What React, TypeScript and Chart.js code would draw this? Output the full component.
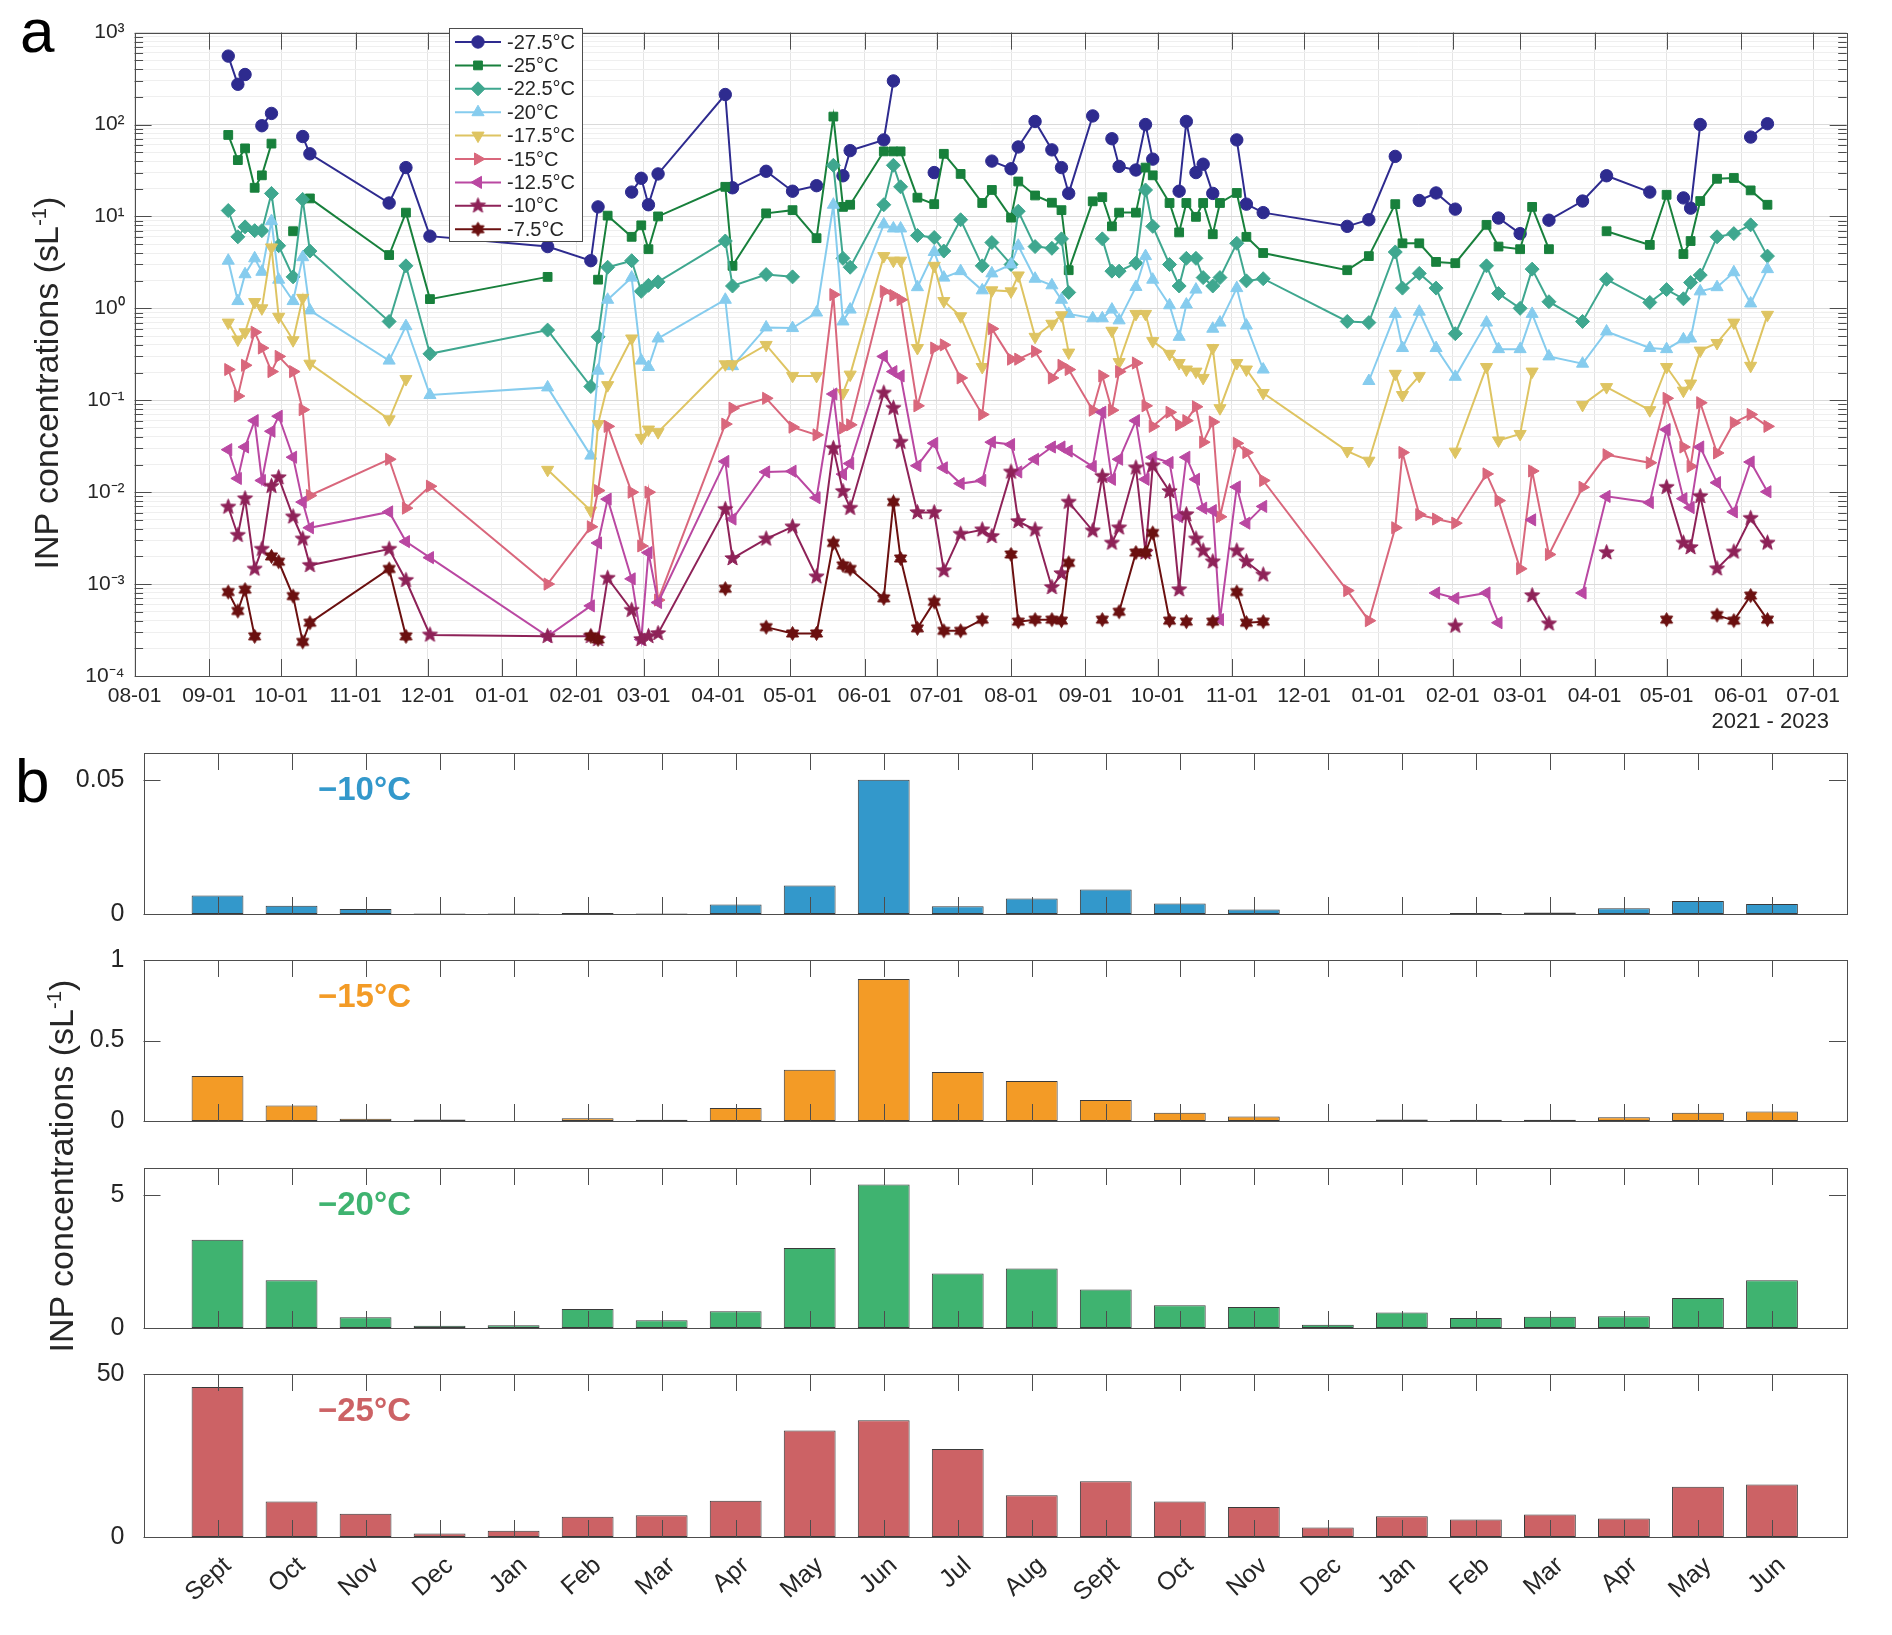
import React, { useEffect, useRef } from "react";
import { Chart, registerables } from "chart.js";
import { drawPoint } from "chart.js/helpers";

Chart.register(...registerables);

const FONT = '"Liberation Sans", Arial, Helvetica, sans-serif';
const INK = "#262626";
const AXIS = "#4d4d4d";
const N = null;

// ---------------- panel a: sampling dates and INP concentrations (sL-1) ----------------
const sampleDates = [
  // 2021
  "2021-09-09", "2021-09-13", "2021-09-16", "2021-09-20", "2021-09-23", "2021-09-27", "2021-09-30",
  "2021-10-06", "2021-10-10", "2021-10-13", "2021-11-15", "2021-11-22", "2021-12-02",
  // 2022 Jan - Mar
  "2022-01-20", "2022-02-07", "2022-02-10", "2022-02-14", "2022-02-24", "2022-02-28", "2022-03-03", "2022-03-07",
  // 2022 Apr - Jul
  "2022-04-04", "2022-04-07", "2022-04-21", "2022-05-02", "2022-05-12", "2022-05-19", "2022-05-23", "2022-05-26",
  "2022-06-09", "2022-06-13", "2022-06-16", "2022-06-23", "2022-06-30", "2022-07-04", "2022-07-11", "2022-07-20", "2022-07-24",
  // 2022 Aug - Dec
  "2022-08-01", "2022-08-04", "2022-08-11", "2022-08-18", "2022-08-22", "2022-08-25",
  "2022-09-04", "2022-09-08", "2022-09-12", "2022-09-15", "2022-09-22", "2022-09-26", "2022-09-29",
  "2022-10-06", "2022-10-10", "2022-10-13", "2022-10-17", "2022-10-20", "2022-10-24", "2022-10-27",
  "2022-11-03", "2022-11-07", "2022-11-14", "2022-12-19", "2022-12-28",
  // 2023
  "2023-01-08", "2023-01-11", "2023-01-18", "2023-01-25", "2023-02-02", "2023-02-15", "2023-02-20",
  "2023-03-01", "2023-03-06", "2023-03-13", "2023-03-27", "2023-04-06", "2023-04-24",
  "2023-05-01", "2023-05-08", "2023-05-11", "2023-05-15", "2023-05-22", "2023-05-29", "2023-06-05", "2023-06-12",
];

const inp275 = [
  555, 274, 350, N, 97, 132, N, N, 74, 48, 14, 34, 6.1,
  4.7, 3.3, 12.7, N, 18.4, 26, 13.4, 29,
  212, 20.5, 31, 18.8, 21.6, N, 27.7, 52, 68, 298, N, N, 30, N, N, N, 40,
  33, 57, 108, 53, 34, 17.8, 124, N, 70, 35, 32, 100, 42, N, 18.8, 108, 30, 37, 17.8, N, 68, 13.6, 11, 7.8, 9.2,
  45, N, 14.9, 18, 12, N, 9.6, 6.5, N, 9.1, 14.7, 27.7, 18.4, N, 15.9, 12.3, 100, N, N, 73, 102,
];
const inp250 = [
  77, 41, 55, 20.5, 28, 62, N, 6.9, N, 15.7, 3.8, 11, 1.26,
  2.2, N, 2.05, 10.2, 6.0, 8.0, 4.4, 10,
  21, 2.9, 10.8, 11.7, 5.8, 122, 12.7, 13.4, 51, 51, 51, 16, 13.6, 48, 29, 14, 19.4,
  9.7, 24, 16.9, 14.1, 11.7, 2.6, 14.6, 16.2, 7.8, 11, 11, 34, 28, 14, 6.7, 14, 9.9, 14, 6.4, 14, 18, 6.0, 4.0, 2.6, 3.7,
  13.6, 5.1, 5.1, 3.2, 3.1, 8.1, 4.7, 4.4, 12.7, 4.4, N, 6.9, 4.9, 17.2, 3.9, 5.4, 14.7, 25.7, 26.2, 19.2, 13.4,
];
const inp225 = [
  11.6, 6.0, 7.7, 7.0, 7.0, 17.8, 4.8, 2.2, 15.3, 4.2, 0.72, 2.9, 0.32,
  0.58, 0.141, 0.49, 2.8, 3.3, 1.53, 1.78, 1.94,
  5.4, 1.75, 2.33, 2.2, N, 36, 3.5, 2.8, 13.4, 36, 21, 6.2, 5.9, 4.2, 9.2, 2.9, 5.2,
  3.0, 11.4, 4.7, 4.5, 5.7, 1.49, N, 5.7, 2.54, 2.54, 3.1, 19.4, 7.8, 3.0, 1.75, 3.5, 3.5, 2.16, 1.75, 2.16, 5.1, 1.99, 2.1, 0.72, 0.7,
  4.1, 1.66, 2.4, 1.66, 0.53, 2.9, 1.45, 1.0, 2.67, 1.18, 0.72, 2.07, 1.16, 1.6, 1.27, 1.91, 2.3, 6.0, 6.5, 8.1, 3.7,
];
const inp200 = [
  3.3, 1.2, 2.35, 3.5, 2.5, 8.9, 2.05, 1.2, 3.6, 0.95, 0.27, 0.64, 0.114,
  0.138, 0.025, 0.21, 1.24, 2.16, 0.27, 0.23, 0.47,
  1.24, 0.235, 0.62, 0.61, 0.9, 13.4, 0.72, 0.97, 8.2, 7.4, 7.4, 1.7, 4.1, 2.16, 2.54, 1.57, 2.4,
  3.0, 4.8, 2.1, 1.78, 1.24, 0.87, 0.78, 0.78, 0.97, 0.74, 1.71, 3.7, 2.05, 1.08, 0.49, 1.1, 1.6, N, 0.6, 0.7, 1.66, 0.65, 0.216, N, 0.162,
  0.87, 0.37, 0.92, 0.37, 0.18, 0.7, 0.36, 0.36, 0.87, 0.3, 0.25, 0.56, 0.37, 0.36, 0.46, 0.47, 1.53, 1.7, 2.47, 1.13, 2.67,
];
const inp175 = [
  0.7, 0.457, 0.55, 1.17, 1.0, 4.6, 0.81, 0.45, 1.3, 0.25, 0.062, 0.17, N,
  0.0175, 0.0063, 0.055, 0.146, 0.47, 0.039, 0.048, 0.045,
  0.246, 0.246, 0.4, 0.184, 0.184, N, 0.12, 0.19, 3.7, 3.3, 3.3, 0.37, 2.9, 1.2, 0.82, 0.23, 1.57,
  1.53, 2.28, 0.49, 0.68, 0.84, 0.33, N, N, 0.57, 0.26, 0.87, 0.87, 0.44, 0.32, 0.254, 0.216, 0.205, 0.175, 0.37, 0.082, 0.254, 0.216, 0.12, 0.028, 0.022,
  0.194, 0.114, 0.184, N, 0.0276, 0.23, 0.0365, 0.043, 0.205, N, 0.089, 0.139, 0.078, 0.23, 0.127, 0.152, 0.347, 0.42, 0.7, 0.237, 0.85,
];
const inp150 = [
  0.216, 0.111, 0.24, 0.55, 0.37, 0.205, 0.3, 0.205, 0.079, 0.0092, 0.0228, 0.0067, 0.0116,
  0.001, 0.0042, 0.0104, 0.052, 0.01, 0.0026, 0.01, 0.00067,
  0.055, 0.082, 0.105, 0.051, 0.042, 1.41, 0.05, 0.054, 1.53, 1.38, 1.24, 0.087, 0.37, 0.4, 0.175, 0.07, 0.6,
  0.28, 0.28, 0.34, 0.175, 0.24, 0.216, 0.078, 0.184, 0.078, 0.205, 0.254, 0.087, 0.052, 0.074, 0.054, 0.06, 0.085, 0.035, 0.058, 0.0054, 0.034, 0.027, 0.0134, 0.00085, 0.0004,
  0.0041, 0.027, 0.0057, 0.0051, 0.0046, 0.0158, 0.0081, 0.00147, 0.017, 0.0021, 0.0113, 0.0255, 0.0209, 0.105, 0.031, 0.0191, 0.094, 0.0267, 0.057, 0.07, 0.052,
];
const inp125 = [
  0.029, 0.0141, 0.031, 0.06, 0.0134, 0.046, 0.067, 0.024, 0.0078, 0.0041, 0.0061, 0.0029, 0.00194,
  0.00027, 0.00058, 0.0028, 0.0084, 0.00114, 0.00025, 0.0022, 0.00063,
  0.0216, 0.0051, 0.0166, 0.0169, 0.0087, 0.117, 0.0157, 0.0205, 0.3, 0.205, 0.184, 0.0194, 0.034, 0.0184, 0.0124, 0.0134, 0.035,
  0.033, 0.0166, 0.0228, 0.031, 0.031, 0.028, 0.019, 0.074, 0.0138, 0.0228, 0.06, 0.0138, 0.024, 0.021, 0.0054, 0.024, 0.0138, 0.0067, 0.0063, 0.00041, 0.0114, 0.0046, 0.007, N, N,
  N, N, N, 0.0008, 0.0007, 0.0008, 0.00038, N, 0.005, N, 0.0008, 0.009, 0.0077, 0.048, 0.0085, 0.0068, 0.031, 0.0127, 0.0061, 0.0213, 0.0101,
];
const inp100 = [
  0.0069, 0.0034, 0.0085, 0.00146, 0.0024, 0.0116, 0.0144, 0.0054, 0.0031, 0.0016, 0.0024, 0.0011, 0.00028,
  0.00027, 0.00027, 0.00025, 0.00116, 0.00052, 0.00025, 0.00027, 0.00029,
  0.0065, 0.0019, 0.0031, 0.0042, 0.0012, 0.03, 0.0102, 0.0067, 0.12, 0.082, 0.035, 0.006, 0.006, 0.0014, 0.0035, 0.0039, 0.0033,
  0.0166, 0.0048, 0.0039, 0.00092, 0.0013, 0.0078, 0.0038, 0.0149, 0.0028, 0.0041, 0.0184, 0.0022, 0.0194, 0.0102, 0.00087, 0.0057, 0.0031, 0.0023, 0.00175, N, 0.0023, 0.00175, 0.00126, N, N,
  N, N, N, N, 0.00035, N, N, N, 0.00075, 0.00037, N, 0.0022, N, 0.0113, 0.0028, 0.0025, 0.009, 0.00147, 0.00224, 0.0052, 0.0028,
];
const inp075 = [
  0.00082, 0.00051, 0.00087, 0.00027, N, 0.002, 0.00175, 0.00074, 0.000235, 0.00038, 0.00146, 0.00027, N,
  N, 0.00027, 0.00025, N, N, N, N, N,
  0.00089, N, 0.00034, 0.00029, 0.00029, 0.0028, 0.0016, 0.00146, 0.0007, 0.0078, 0.0019, 0.00033, 0.00064, 0.00031, 0.00031, 0.00041, N,
  0.0021, 0.00039, 0.00041, 0.00041, 0.0004, 0.0017, N, 0.00041, N, 0.0005, 0.0022, 0.0022, 0.0036, 0.0004, N, 0.00039, N, N, 0.00039, N, 0.00082, 0.00038, 0.00039, N, N,
  N, N, N, N, N, N, N, N, N, N, N, N, N, 0.00041, N, N, N, 0.00046, 0.0004, 0.00075, 0.00041,
];

// month ticks of the time axis
const xTickDates = [
  "2021-08-01", "2021-09-01", "2021-10-01", "2021-11-01", "2021-12-01", "2022-01-01",
  "2022-02-01", "2022-03-01", "2022-04-01", "2022-05-01", "2022-06-01", "2022-07-01",
  "2022-08-01", "2022-09-01", "2022-10-01", "2022-11-01", "2022-12-01", "2023-01-01",
  "2023-02-01", "2023-03-01", "2023-04-01", "2023-05-01", "2023-06-01", "2023-07-01",
];
const xTickLabels = xTickDates.map((d) => d.slice(5));
const axisStart = "2021-08-01";
const axisEnd = "2023-07-15";
const yDecades = [-4, -3, -2, -1, 0, 1, 2, 3];

// ---------------- panel b: monthly means ----------------
const months = [
  "Sept", "Oct", "Nov", "Dec", "Jan", "Feb", "Mar", "Apr", "May", "Jun", "Jul",
  "Aug", "Sept", "Oct", "Nov", "Dec", "Jan", "Feb", "Mar", "Apr", "May", "Jun",
];
const bar10 = [0.0069, 0.0031, 0.0019, 0.0002, 0.0002, 0.0004, 0.0002, 0.0035, 0.0106, 0.05, 0.0029, 0.0058, 0.0091, 0.0039, 0.0017, 0, 0, 0.0004, 0.0006, 0.0021, 0.0048, 0.0037];
const bar15 = [0.28, 0.097, 0.014, 0.01, 0, 0.017, 0.007, 0.08, 0.318, 0.882, 0.304, 0.249, 0.131, 0.052, 0.028, 0, 0.01, 0.007, 0.007, 0.024, 0.052, 0.059];
const bar20 = [3.31, 1.79, 0.4, 0.083, 0.1, 0.71, 0.29, 0.63, 3.0, 5.38, 2.04, 2.23, 1.44, 0.85, 0.79, 0.125, 0.58, 0.375, 0.42, 0.44, 1.125, 1.79];
const bar25 = [46.0, 10.9, 7.1, 1.04, 1.9, 6.2, 6.7, 11.1, 32.7, 35.8, 27.0, 12.8, 17.1, 10.9, 9.2, 2.9, 6.4, 5.4, 6.9, 5.7, 15.4, 16.1];
const ticks10 = [0, 0.05];
const ticks15 = [0, 0.5, 1];
const ticks20 = [0, 5];
const ticks25 = [0, 50];

// ---------------- helpers ----------------
function dayOf(iso: string): number {
  const [y, m, d] = iso.split("-").map(Number);
  return (Date.UTC(y, m - 1, d) - Date.UTC(2021, 7, 1)) / 86400000;
}

const SUP: Record<string, string> = { "-": "\u207B", "0": "\u2070", "1": "\u00B9", "2": "\u00B2", "3": "\u00B3", "4": "\u2074" };
const isDecade = (v: number) => Math.abs(Math.log10(v) - Math.round(Math.log10(v))) < 1e-6;
const decadeLabel = (v: number) =>
  "10" + String(Math.round(Math.log10(v))).split("").map((c) => SUP[c]).join("");

function starCanvas(points: number, inner: number, r: number, color: string) {
  const size = Math.ceil(r * 2 + 3);
  const c = document.createElement("canvas");
  c.width = size;
  c.height = size;
  const g = c.getContext("2d")!;
  g.translate(size / 2, size / 2);
  g.beginPath();
  for (let i = 0; i < points * 2; i++) {
    const rad = i % 2 === 0 ? r : r * inner;
    const a = -Math.PI / 2 + (i * Math.PI) / points;
    g.lineTo(rad * Math.cos(a), rad * Math.sin(a));
  }
  g.closePath();
  g.fillStyle = color;
  g.strokeStyle = color;
  g.lineWidth = 1;
  g.fill();
  g.stroke();
  return c;
}

// box + inward ticks, MATLAB style
const axesFrame = {
  id: "axesFrame",
  afterDraw(chart: any, _args: any, o: any) {
    const { ctx, chartArea: a } = chart;
    const xs = chart.scales.x;
    const ys = chart.scales.y;
    const len = o.tickLength;
    ctx.save();
    ctx.strokeStyle = AXIS;
    ctx.lineWidth = 1;
    ctx.beginPath();
    for (const t of xs.ticks) {
      const px = Math.round(xs.getPixelForValue(t.value)) + 0.5;
      if (px < a.left + 2 || px > a.right - 2) continue;
      ctx.moveTo(px, a.bottom);
      ctx.lineTo(px, a.bottom - len);
      ctx.moveTo(px, a.top);
      ctx.lineTo(px, a.top + len);
    }
    for (const t of ys.ticks) {
      const py = Math.round(ys.getPixelForValue(t.value)) + 0.5;
      const l = o.minorY && !isDecade(t.value) ? len / 2 : len;
      ctx.moveTo(a.left, py);
      ctx.lineTo(a.left + l, py);
      ctx.moveTo(a.right, py);
      ctx.lineTo(a.right - l, py);
    }
    ctx.stroke();
    ctx.strokeRect(Math.round(a.left) + 0.5, Math.round(a.top) + 0.5, Math.round(a.width), Math.round(a.height));
    ctx.restore();
  },
};

// legend box inside panel a
const seriesLegend = {
  id: "seriesLegend",
  afterDraw(chart: any, _args: any, o: any) {
    const { ctx } = chart;
    ctx.save();
    ctx.fillStyle = "#ffffff";
    ctx.fillRect(o.x, o.y, o.w, o.h);
    ctx.strokeStyle = AXIS;
    ctx.lineWidth = 1;
    ctx.strokeRect(o.x + 0.5, o.y + 0.5, o.w, o.h);
    ctx.font = `${o.fontSize}px ${FONT}`;
    ctx.textBaseline = "middle";
    ctx.textAlign = "left";
    chart.data.datasets.forEach((ds: any, i: number) => {
      const cy = o.y + o.first + i * o.row;
      ctx.strokeStyle = ds.borderColor;
      ctx.lineWidth = ds.borderWidth;
      ctx.beginPath();
      ctx.moveTo(o.x + 6, cy);
      ctx.lineTo(o.x + 52, cy);
      ctx.stroke();
      ctx.fillStyle = ds.pointBackgroundColor;
      ctx.strokeStyle = ds.pointBorderColor;
      ctx.lineWidth = 1;
      drawPoint(ctx, { pointStyle: ds.pointStyle, radius: ds.pointRadius, rotation: ds.pointRotation, borderWidth: 1 }, o.x + 29, cy);
      ctx.fillStyle = INK;
      ctx.fillText(ds.label, o.x + 58, cy + 1);
    });
    ctx.restore();
  },
};

// coloured temperature tag inside each bar panel
const panelTag = {
  id: "panelTag",
  afterDraw(chart: any, _args: any, o: any) {
    const { ctx, chartArea: a } = chart;
    ctx.save();
    ctx.font = `bold ${o.size}px ${FONT}`;
    ctx.fillStyle = o.color;
    ctx.textBaseline = "middle";
    ctx.textAlign = "left";
    ctx.fillText(o.text, o.x, a.top + o.dy);
    ctx.restore();
  },
};

const seriesA = [
  { label: "-27.5\u00B0C", values: inp275, color: "#2E2B8F", marker: "circle", radius: 6.2, rotation: 0 },
  { label: "-25\u00B0C", values: inp250, color: "#18803C", marker: "rect", radius: 6.2, rotation: 0 },
  { label: "-22.5\u00B0C", values: inp225, color: "#3FA78F", marker: "rectRot", radius: 7, rotation: 0 },
  { label: "-20\u00B0C", values: inp200, color: "#86CCEE", marker: "triangle", radius: 7, rotation: 0 },
  { label: "-17.5\u00B0C", values: inp175, color: "#DEC462", marker: "triangle", radius: 7, rotation: 180 },
  { label: "-15\u00B0C", values: inp150, color: "#D9677C", marker: "triangle", radius: 7, rotation: 90 },
  { label: "-12.5\u00B0C", values: inp125, color: "#BA48A2", marker: "triangle", radius: 7, rotation: 270 },
  { label: "-10\u00B0C", values: inp100, color: "#8E2258", marker: "star5", radius: 8, rotation: 0 },
  { label: "-7.5\u00B0C", values: inp075, color: "#6B1010", marker: "star6", radius: 7, rotation: 0 },
];

const PA = { h: 740, left: 134.6, right: 1846.7, top: 32.6, bottom: 676 };

function PanelA() {
  const ref = useRef<HTMLCanvasElement | null>(null);

  useEffect(() => {
    if (!ref.current) return;
    const yTicks: number[] = [];
    yDecades.forEach((e) => {
      const top = e === 3 ? 1 : 9;
      for (let m = 1; m <= top; m++) yTicks.push(Number((m * Math.pow(10, e)).toPrecision(3)));
    });

    const datasets = seriesA.map((s, i) => {
      const style =
        s.marker === "star5" ? starCanvas(5, 0.42, s.radius, s.color)
        : s.marker === "star6" ? starCanvas(6, 0.58, s.radius, s.color)
        : s.marker;
      return {
        label: s.label,
        data: sampleDates.map((d, j) => ({ x: dayOf(d), y: s.values[j] })),
        borderColor: s.color,
        backgroundColor: s.color,
        pointBackgroundColor: s.color,
        pointBorderColor: s.color,
        pointBorderWidth: 1,
        pointStyle: style,
        pointRadius: s.radius,
        pointRotation: s.rotation,
        borderWidth: 2,
        tension: 0,
        spanGaps: false,
        order: seriesA.length - i,
      };
    });

    const chart = new Chart(ref.current, {
      type: "line",
      data: { datasets } as any,
      options: {
        responsive: false,
        animation: false,
        events: [],
        layout: { padding: { left: 0, top: PA.top, right: 1892 - PA.right, bottom: 0 } },
        plugins: {
          legend: { display: false },
          tooltip: { enabled: false },
          axesFrame: { tickLength: 17, minorY: true },
          seriesLegend: { x: 449, y: 28, w: 133, h: 213, first: 14, row: 23.4, fontSize: 20 },
        } as any,
        scales: {
          x: {
            type: "linear",
            min: dayOf(axisStart),
            max: dayOf(axisEnd),
            afterBuildTicks: (s: any) => {
              s.ticks = xTickDates.map((d) => ({ value: dayOf(d) }));
            },
            afterFit: (s: any) => {
              s.height = PA.h - PA.bottom;
            },
            ticks: {
              autoSkip: false,
              maxRotation: 0,
              padding: 8,
              color: INK,
              font: { family: FONT, size: 21 },
              callback: (_v: any, i: number) => xTickLabels[i],
            },
            grid: { color: "#e4e4e4", drawTicks: false },
            border: { display: false },
          },
          y: {
            type: "logarithmic",
            min: 1e-4,
            max: 1e3,
            afterBuildTicks: (s: any) => {
              s.ticks = yTicks.map((v) => ({ value: v }));
            },
            afterFit: (s: any) => {
              s.width = PA.left;
            },
            ticks: {
              autoSkip: false,
              padding: 10,
              color: INK,
              font: { family: FONT, size: 21 },
              callback: (v: any) => (isDecade(Number(v)) ? decadeLabel(Number(v)) : ""),
            },
            grid: {
              color: (c: any) => (c.tick && isDecade(c.tick.value) ? "#dadada" : "#efefef"),
              drawTicks: false,
            },
            border: { display: false },
          },
        } as any,
      },
      plugins: [axesFrame, seriesLegend],
    });

    return () => {
      chart.destroy();
    };
  }, []);

  return (
    <canvas
      ref={ref}
      width={1892}
      height={PA.h}
      style={{ position: "absolute", left: 0, top: 0, width: 1892, height: PA.h }}
    />
  );
}

type BarProps = {
  values: number[];
  color: string;
  tag: string;
  yMax: number;
  yTicks: number[];
  top: number;
  height: number;
  showMonths: boolean;
};

const PB = { left: 143.5, right: 1846, padTop: 24 };

function BarPanel({ values, color, tag, yMax, yTicks, top, height, showMonths }: BarProps) {
  const ref = useRef<HTMLCanvasElement | null>(null);
  const bottomSpace = showMonths ? 100 : 24;
  const canvasH = PB.padTop + height + bottomSpace;

  useEffect(() => {
    if (!ref.current) return;
    const chart = new Chart(ref.current, {
      type: "bar",
      data: {
        datasets: [
          {
            data: months.map((_m, i) => ({ x: i + 1, y: values[i] })),
            backgroundColor: color,
            borderColor: "#3a3a3a",
            borderWidth: 1,
            borderSkipped: false,
            barPercentage: 0.7,
            categoryPercentage: 1,
          },
        ],
      } as any,
      options: {
        responsive: false,
        animation: false,
        events: [],
        layout: { padding: { left: 0, top: PB.padTop, right: 1892 - PB.right, bottom: 0 } },
        plugins: {
          legend: { display: false },
          tooltip: { enabled: false },
          axesFrame: { tickLength: 17, minorY: false },
          panelTag: { text: tag, color, x: 318, dy: 38, size: 33 },
        } as any,
        scales: {
          x: {
            type: "linear",
            min: 0,
            max: months.length + 1,
            offset: false,
            afterBuildTicks: (s: any) => {
              s.ticks = months.map((_m, i) => ({ value: i + 1 }));
            },
            afterFit: (s: any) => {
              s.height = bottomSpace;
            },
            ticks: {
              display: showMonths,
              autoSkip: false,
              minRotation: 42,
              maxRotation: 42,
              labelOffset: 10,
              padding: 6,
              color: INK,
              font: { family: FONT, size: 25 },
              callback: (_v: any, i: number) => months[i],
            },
            grid: { display: false, offset: false },
            border: { display: false },
          },
          y: {
            type: "linear",
            min: 0,
            max: yMax,
            afterBuildTicks: (s: any) => {
              s.ticks = yTicks.map((v) => ({ value: v }));
            },
            afterFit: (s: any) => {
              s.width = PB.left;
            },
            ticks: {
              autoSkip: false,
              padding: 11,
              color: INK,
              font: { family: FONT, size: 25 },
              callback: (v: any) => String(v),
            },
            grid: { display: false },
            border: { display: false },
          },
        } as any,
      },
      plugins: [axesFrame, panelTag],
    });

    return () => {
      chart.destroy();
    };
  }, [values, color, tag, yMax, yTicks, showMonths, bottomSpace]);

  return (
    <canvas
      ref={ref}
      width={1892}
      height={canvasH}
      style={{ position: "absolute", left: 0, top: top - PB.padTop, width: 1892, height: canvasH }}
    />
  );
}

function yTitle(cx: number, cy: number): React.CSSProperties {
  return {
    position: "absolute",
    left: cx - 260,
    top: cy - 22,
    width: 520,
    height: 44,
    lineHeight: "44px",
    textAlign: "center",
    transform: "rotate(-90deg)",
    fontFamily: FONT,
    fontSize: 34,
    color: INK,
    whiteSpace: "nowrap",
  };
}

const panelLetter: React.CSSProperties = {
  position: "absolute",
  fontFamily: FONT,
  fontSize: 62,
  lineHeight: "62px",
  color: "#000",
};

export default function App() {
  useEffect(() => {
    document.body.style.margin = "0";
  }, []);

  return (
    <div style={{ position: "absolute", left: 0, top: 0, width: 1892, height: 1635, background: "#fff", overflow: "hidden" }}>
      <PanelA />
      <BarPanel values={bar10} color="#3398CB" tag={"\u221210\u00B0C"} yMax={0.06} yTicks={ticks10} top={751} height={165} showMonths={false} />
      <BarPanel values={bar15} color="#F39B26" tag={"\u221215\u00B0C"} yMax={1} yTicks={ticks15} top={958} height={165} showMonths={false} />
      <BarPanel values={bar20} color="#3FB370" tag={"\u221220\u00B0C"} yMax={6} yTicks={ticks20} top={1166} height={164} showMonths={false} />
      <BarPanel values={bar25} color="#CC6265" tag={"\u221225\u00B0C"} yMax={50} yTicks={ticks25} top={1372} height={165} showMonths={true} />

      <div style={{ ...panelLetter, left: 20, top: 0 }}>a</div>
      <div style={{ ...panelLetter, left: 15, top: 750 }}>b</div>

      <div style={yTitle(39, 383)}>
        INP concentrations (sL<sup style={{ fontSize: "0.6em" }}>-1</sup>)
      </div>
      <div style={yTitle(54, 1166)}>
        INP concentrations (sL<sup style={{ fontSize: "0.6em" }}>-1</sup>)
      </div>

      <div
        style={{
          position: "absolute",
          left: 1690,
          top: 708,
          width: 139,
          textAlign: "right",
          fontFamily: FONT,
          fontSize: 22,
          lineHeight: "26px",
          color: INK,
        }}
      >
        2021 - 2023
      </div>
    </div>
  );
}
